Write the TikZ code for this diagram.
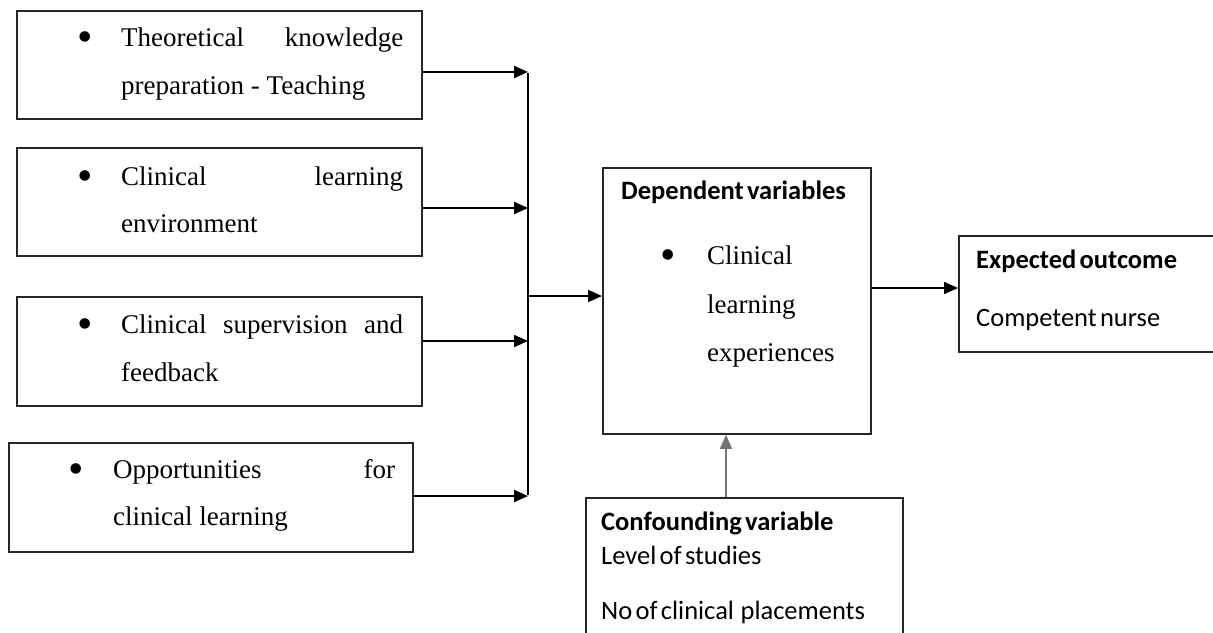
\documentclass[tikz,border=0pt]{standalone}
\usepackage{fontspec}
\setmainfont{Liberation Serif}
\newfontfamily\calib[WordSpace=0.55]{Carlito}
\usetikzlibrary{arrows.meta}
\tikzset{
  box/.style={draw=black!85, line width=1.8pt, inner sep=0pt, anchor=north west},
  arr/.style={draw=black, line width=1.9pt, -{Triangle[length=14pt,width=12pt]}},
  ln/.style={draw=black, line width=1.9pt},
  tx/.style={anchor=base west, inner sep=0pt, font=\fontsize{27}{32}\selectfont},
  bul/.style={anchor=center, inner sep=0pt, font=\fontsize{44}{44}\selectfont},
  hd/.style={anchor=base west, inner sep=0pt, font=\calib\bfseries\fontsize{26.5}{30}\selectfont},
  cb/.style={anchor=base west, inner sep=0pt, font=\calib\fontsize{26.5}{30}\selectfont}
}
\begin{document}
\begin{tikzpicture}[x=1pt,y=-1pt]
\useasboundingbox (0,0) rectangle (1213,632);
% input boxes
\node[box, minimum width=405pt, minimum height=108pt] (b1) at (16,10) {};
\node[box, minimum width=405pt, minimum height=108pt] (b2) at (16,147) {};
\node[box, minimum width=405pt, minimum height=109pt] (b3) at (16,296) {};
\node[box, minimum width=404pt, minimum height=109pt] (b4) at (8,442) {};
% texts
\node[bul] (u1) at (85,42) {\textbullet};
\node[tx] (t1a) at (121,46) {\makebox[282pt][s]{Theoretical knowledge}};
\node[tx] (t1b) at (121,94) {preparation - Teaching};
\node[bul] (u2) at (85,181) {\textbullet};
\node[tx] (t2a) at (121,185) {\makebox[282pt][s]{Clinical learning}};
\node[tx] (t2b) at (121,232) {environment};
\node[bul] (u3) at (85,329) {\textbullet};
\node[tx] (t3a) at (121,333) {\makebox[282pt][s]{Clinical supervision and}};
\node[tx] (t3b) at (121,381) {feedback};
\node[bul] (u4) at (76,474) {\textbullet};
\node[tx] (t4a) at (113,478) {\makebox[282pt][s]{Opportunities for}};
\node[tx] (t4b) at (113,525) {clinical learning};
% dependent
\node[box, minimum width=268pt, minimum height=266pt] (dep) at (602,167) {};
\node[hd] (dh) at (621,199) {Dependent variables};
\node[bul] (du) at (668,260) {\textbullet};
\node[tx] (d1) at (707,264) {Clinical};
\node[tx] (d2) at (707,313) {learning};
\node[tx] (d3) at (707,361) {experiences};
% expected
\node[box, minimum width=262pt, minimum height=116pt] (exp) at (958,235) {};
\node[hd] (eh) at (976,268) {Expected outcome};
\node[cb] (e1) at (976,326) {Competent nurse};
% confounding
\node[box, minimum width=317pt, minimum height=150pt] (con) at (585,497) {};
\node[hd] (ch) at (601,530) {Confounding variable};
\node[cb] (c1) at (601,564) {Level of studies};
\node[cb] (c2) at (601,619) {No of clinical\ \ placements};
% connectors
\coordinate (j1) at (528,72);
\coordinate (j2) at (528,208);
\coordinate (j3) at (528,341);
\coordinate (j4) at (528,496);
\coordinate (jm) at (528,296);
\coordinate (je) at (870,288);
\coordinate (jc) at (726,497);
\draw[arr] (j1 -| b1.east) -- (j1);
\draw[arr] (j2 -| b2.east) -- (j2);
\draw[arr] (j3 -| b3.east) -- (j3);
\draw[arr] (j4 -| b4.east) -- (j4);
\draw[ln] ([yshift=-0.9pt]j1) -- ([yshift=0.9pt]j4);
\draw[arr] (jm) -- (jm -| dep.west);
\draw[arr] (je -| dep.east) -- (je -| exp.west);
\draw[arr, draw=black!55] (jc) -- (jc |- dep.south);
\end{tikzpicture}
\end{document}
